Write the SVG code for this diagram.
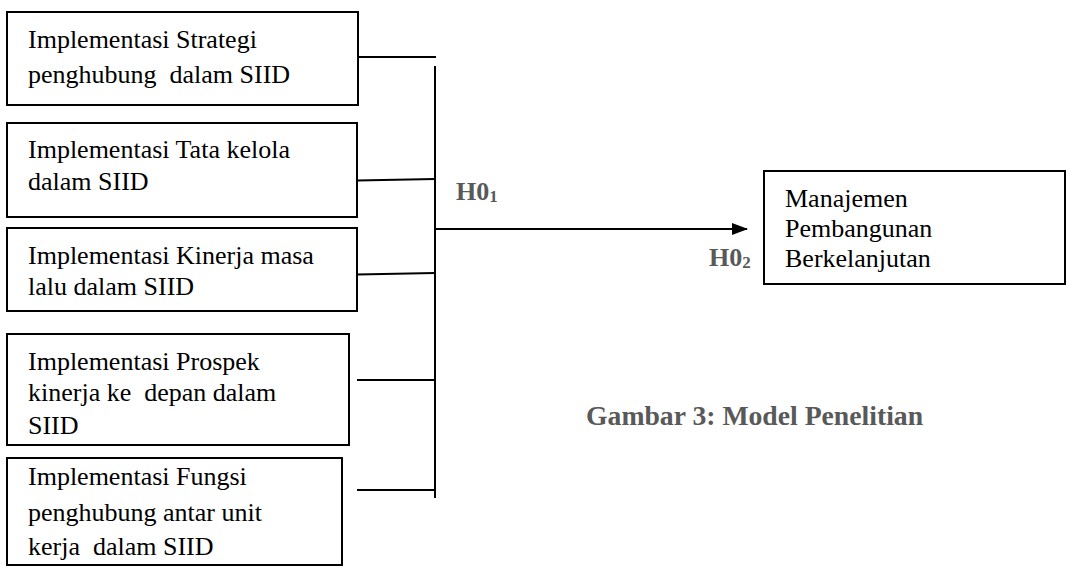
<svg xmlns="http://www.w3.org/2000/svg" width="1066" height="567" viewBox="0 0 1066 567">
<style>
.box{fill:#fff;stroke:#000;stroke-width:2}
.t{font-family:"Liberation Serif","Times New Roman",serif;font-size:26px;fill:#000}
.h{font-family:"Liberation Serif","Times New Roman",serif;font-size:26px;font-weight:bold;fill:#595959}
.sub{font-size:17px}
.ln{stroke:#000;stroke-width:2;fill:none}
</style>
<defs>
<marker id="arr" markerWidth="8" markerHeight="6" refX="7.5" refY="3" orient="auto" markerUnits="strokeWidth">
<path d="M0,0 L8,3 L0,6 Z" fill="#000"/>
</marker>
</defs>
<rect width="1066" height="567" fill="#fff"/>
<g id="n1">
<rect class="box" x="7" y="12" width="351" height="93"/>
<text class="t" x="28" y="48">Implementasi Strategi</text>
<text class="t" x="28" y="83" xml:space="preserve">penghubung  dalam SIID</text>
</g>
<g id="n2">
<rect class="box" x="7" y="123" width="350" height="94"/>
<text class="t" x="28" y="158">Implementasi Tata kelola</text>
<text class="t" x="28" y="190">dalam SIID</text>
</g>
<g id="n3">
<rect class="box" x="7" y="228" width="350" height="83"/>
<text class="t" x="28" y="264">Implementasi Kinerja masa</text>
<text class="t" x="28" y="295">lalu dalam SIID</text>
</g>
<g id="n4">
<rect class="box" x="7" y="334" width="342" height="111"/>
<text class="t" x="28" y="370">Implementasi Prospek</text>
<text class="t" x="28" y="401" xml:space="preserve">kinerja ke  depan dalam</text>
<text class="t" x="28" y="434">SIID</text>
</g>
<g id="n5">
<rect class="box" x="7" y="458" width="335" height="107"/>
<text class="t" x="28" y="485">Implementasi Fungsi</text>
<text class="t" x="28" y="521">penghubung antar unit</text>
<text class="t" x="28" y="555" xml:space="preserve">kerja  dalam SIID</text>
</g>
<g id="n6">
<rect class="box" x="764" y="171" width="301" height="113"/>
<text class="t" x="785" y="207">Manajemen</text>
<text class="t" x="785" y="237">Pembangunan</text>
<text class="t" x="785" y="267">Berkelanjutan</text>
</g>
<g id="connectors">
<line class="ln" x1="358" y1="57" x2="436" y2="57"/>
<line class="ln" x1="435" y1="66" x2="435" y2="498"/>
<line class="ln" x1="357" y1="180.5" x2="435" y2="179"/>
<line class="ln" x1="357" y1="274.5" x2="435" y2="273"/>
<line class="ln" x1="357" y1="380" x2="435" y2="380"/>
<line class="ln" x1="357" y1="490" x2="435" y2="490"/>
<line class="ln" x1="435" y1="229" x2="747" y2="229" marker-end="url(#arr)"/>
</g>
<g id="labels">
<text class="h" x="456" y="200">H0<tspan class="sub" dy="2">1</tspan></text>
<text class="h" x="709" y="266">H0<tspan class="sub" dy="2">2</tspan></text>
<text class="h" x="586" y="425" style="font-size:27.7px">Gambar 3: Model Penelitian</text>
</g>
</svg>
